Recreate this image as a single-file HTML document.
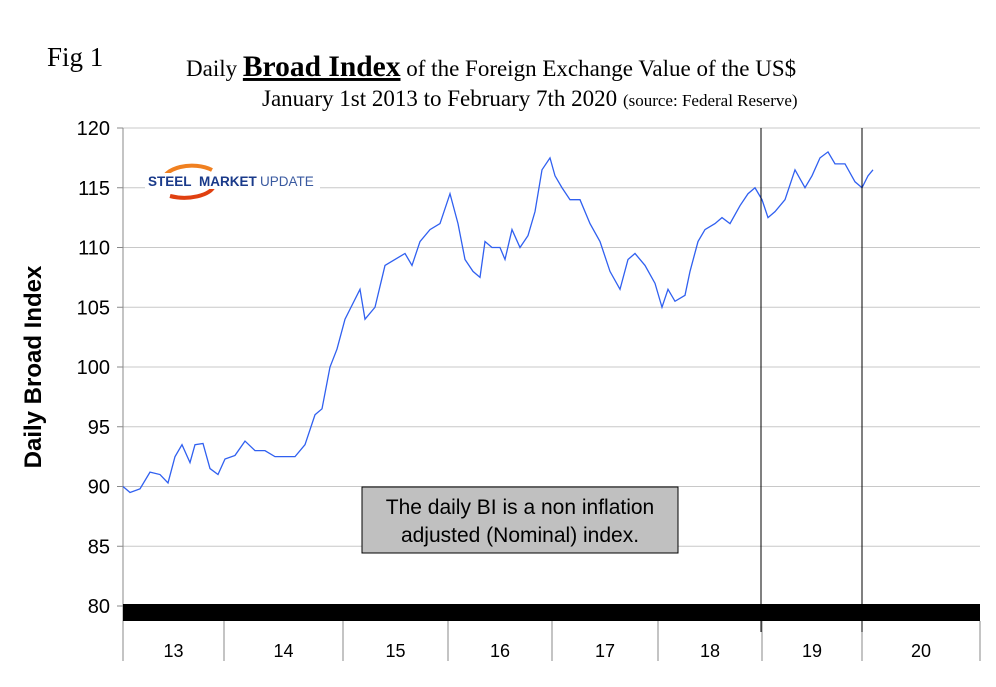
<!DOCTYPE html>
<html><head><meta charset="utf-8"><style>
body{margin:0;background:#fff;}
svg text{font-family:"Liberation Sans",sans-serif;}
</style></head><body>
<svg id="chart" width="996" height="682" xmlns="http://www.w3.org/2000/svg">
<text x="47" y="66" font-size="27" style="font-family:'Liberation Serif',serif">Fig 1</text>
<text x="186" y="76" font-size="23" style="font-family:'Liberation Serif',serif">Daily <tspan font-size="29.5" font-weight="bold" text-decoration="underline">Broad Index</tspan> of the Foreign Exchange Value of the US$</text>
<text x="262" y="106" font-size="23" style="font-family:'Liberation Serif',serif">January 1st 2013 to February 7th 2020 <tspan font-size="17">(source: Federal Reserve)</tspan></text>
<g id="grid"></g>
<g id="logo">
<path d="M162,182 A30,17 0 0 1 212,170" fill="none" stroke="#f08020" stroke-width="4"/>
<path d="M170,196 A30,14 0 0 0 214,186" fill="none" stroke="#e04010" stroke-width="4"/>
<rect x="145" y="173" width="175" height="16" fill="#fff"/>
<text x="148" y="186" font-size="13.5" font-weight="bold" fill="#1a3a8a">STEEL</text>
<text x="199" y="186" font-size="13.5" font-weight="bold" fill="#1a3a8a">MARKET</text>
<text x="260" y="186" font-size="13.5" fill="#3a5aa0">UPDATE</text>
</g>
<g id="series"></g>
<line x1="761" y1="128" x2="761" y2="632" stroke="#000"/>
<line x1="862" y1="128" x2="862" y2="632" stroke="#000"/>
<rect x="362" y="487" width="316" height="66" fill="#c0c0c0" stroke="#000"/>
<text x="520" y="514" font-size="21" text-anchor="middle">The daily BI is a non inflation</text>
<text x="520" y="542" font-size="21" text-anchor="middle">adjusted (Nominal) index.</text>
<text transform="translate(41,367) rotate(-90)" font-size="24" font-weight="bold" text-anchor="middle">Daily Broad Index</text>
</svg>
<script>
const yTicks=[80,85,90,95,100,105,110,115,120];
const years=["13","14","15","16","17","18","19","20"];
const yearBounds=[123,224,343,448,552,658,762,862,980];
const values=[90,89.5,89.8,91.2,91,90.3,92.5,93.5,92,93.5,93.6,91.5,91,92.3,92.6,93.8,93,93,92.5,92.5,92.5,93.5,96,96.5,100,101.5,104,105,106.5,104,105,108.5,109,109.5,108.5,110.5,111.5,112,114.5,112,109,108,107.5,110.5,110,110,109,111.5,110,111,113,116.5,117.5,116,115,114,114,112,110.5,108,106.5,109,109.5,108.5,107,105,106.5,105.5,106,108,110.5,111.5,112,112.5,112,113.5,114.5,115,114,112.5,113,114,116.5,115,116,117.5,118,117,117,115.5,115,116,116.5];
const xs=[123,130,140,150,160,168,175,182,190,195,203,210,218,225,235,245,255,265,275,285,295,305,315,322,330,337,345,351,360,365,375,385,395,405,412,420,430,440,450,458,465,473,480,485,492,500,505,512,520,528,535,542,550,555,562,570,580,590,600,610,620,628,635,645,655,662,668,675,685,690,698,705,715,722,730,740,748,755,762,768,775,785,795,805,812,820,828,835,845,855,862,868,873];
const NS="http://www.w3.org/2000/svg";
const y0=606,pxPer=(606-128)/40;
function yS(v){return y0-(v-80)*pxPer;}
function xS(i){return xs[i];}
const grid=document.getElementById('grid');
function mk(t,a,p){const e=document.createElementNS(NS,t);for(const k in a)e.setAttribute(k,a[k]);p.appendChild(e);return e;}
yTicks.forEach(v=>{
 if(v>80){const g=mk('line',{x1:123,x2:980,y1:yS(v),y2:yS(v),stroke:'#c8c8c8'},grid);
 
 }
 const tk=mk('line',{x1:117,x2:123,y1:yS(v),y2:yS(v),stroke:'#888'},grid);
 
 
 const t=mk('text',{x:110,y:yS(v)+7,'font-size':20,'text-anchor':'end'},grid);t.textContent=v;
 
 
});
const ax=mk('line',{x1:123,x2:123,y1:128,y2:661,stroke:'#888'},grid);


const bar=mk('rect',{x:123,y:604,width:857,height:17,fill:'#000'},grid);


yearBounds.forEach((b,i)=>{
 const d=mk('line',{x1:b,x2:b,y1:621,y2:661,stroke:'#888'},grid);
 
 
 if(i<years.length){const t=mk('text',{x:(b+yearBounds[i+1])/2,y:657,'font-size':18,'text-anchor':'middle'},grid);t.textContent=years[i];
 
 }
});
const pts=values.map((v,i)=>xS(i)+','+yS(v)).join(' ');
const pl=mk('polyline',{points:pts,fill:'none',stroke:'#3060f0','stroke-width':1.3},document.getElementById('series'));


</script>
</body></html>
